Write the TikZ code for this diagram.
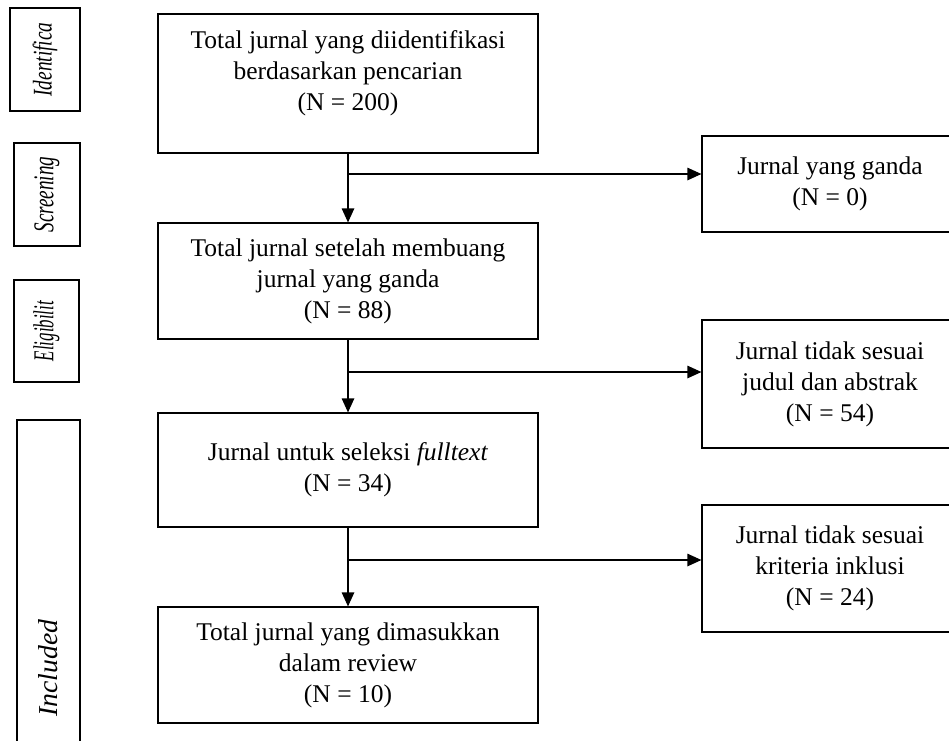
\documentclass[tikz,border=0pt]{standalone}
\usepackage{fontspec}
\setmainfont{Liberation Serif}
\usetikzlibrary{arrows.meta}
\begin{document}
\begin{tikzpicture}[x=1pt,y=-1pt,
  box/.style={draw, line width=1.2pt, inner sep=0pt},
  txt/.style={align=center, inner sep=0pt, font=\fontsize{25.5}{31}\selectfont},
  arr/.style={line width=1.2pt, -{Triangle[length=14pt,width=12.5pt]}},
  ln/.style={line width=1.2pt}]
\useasboundingbox (0,0) rectangle (949,740);
\clip (0,0) rectangle (949,740);

% stage labels
\node[box, minimum width=70pt, minimum height=103pt] (l1) at (45,59.5)
  {\rotatebox{90}{\resizebox{74pt}{19pt}{\itshape Identifica}}};
\node[box, minimum width=66pt, minimum height=103pt] (l2) at (47,194.5)
  {\rotatebox{90}{\resizebox{76pt}{19pt}{\itshape Screening}}};
\node[box, minimum width=65pt, minimum height=102pt] (l3) at (46.5,331)
  {\rotatebox{90}{\resizebox{60pt}{20pt}{\itshape Eligibilit}}};
\node[box, minimum width=63pt, minimum height=496pt] (l4) at (48.5,668)
  {\rotatebox{90}{\resizebox{97pt}{19pt}{\itshape Included}}};

% main boxes
\node[box, minimum width=380pt, minimum height=139pt] (b1) at (348,83.5) {};
\node[txt, anchor=north] (t1) at (348,30)
  {Total jurnal yang diidentifikasi\\berdasarkan pencarian\\(N = 200)};
\node[box, txt, minimum width=380pt, minimum height=116pt] (b2) at (348,281)
  {Total jurnal setelah membuang\\jurnal yang ganda\\(N = 88)};
\node[box, txt, minimum width=380pt, minimum height=114pt] (b3) at (348,470)
  {Jurnal untuk seleksi \textit{fulltext}\\(N = 34)};
\node[box, txt, minimum width=380pt, minimum height=116pt] (b4) at (348,665)
  {Total jurnal yang dimasukkan\\dalam review\\(N = 10)};

% excluded boxes
\node[box, txt, minimum width=256pt, minimum height=96pt] (r1) at (830,184)
  {Jurnal yang ganda\\(N = 0)};
\node[box, txt, minimum width=256pt, minimum height=128pt] (r2) at (830,384)
  {Jurnal tidak sesuai\\judul dan abstrak\\(N = 54)};
\node[box, txt, minimum width=256pt, minimum height=127pt] (r3) at (830,568.5)
  {Jurnal tidak sesuai\\kriteria inklusi\\(N = 24)};

% connectors
\coordinate (j1) at (348,174);
\coordinate (j2) at (348,372);
\coordinate (j3) at (348,560);
\draw[arr] (b1.south) -- (b2.north);
\draw[arr] (j1) -- (j1 -| r1.west);
\draw[arr] (b2.south) -- (b3.north);
\draw[arr] (j2) -- (j2 -| r2.west);
\draw[arr] (b3.south) -- (b4.north);
\draw[arr] (j3) -- (j3 -| r3.west);
\end{tikzpicture}
\end{document}
